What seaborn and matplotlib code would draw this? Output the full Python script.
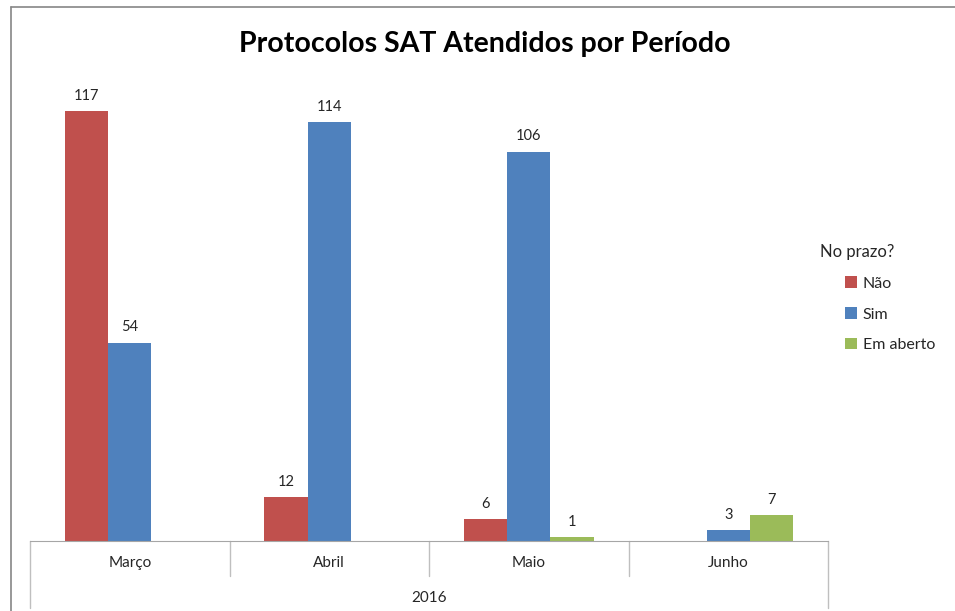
import pandas as pd
import matplotlib.pyplot as plt
import seaborn as sns
from matplotlib.lines import Line2D

meses = ["Março", "Abril", "Maio", "Junho"]
nao = [117, 12, 6, None]
sim = [54, 114, 106, 3]
em_aberto = [None, None, 1, 7]
series = ["Não", "Sim", "Em aberto"]
cores = {"Não": "#C0504D", "Sim": "#4F81BD", "Em aberto": "#9BBB59"}

rows = []
for i, m in enumerate(meses):
    for nome, vals in zip(series, [nao, sim, em_aberto]):
        if vals[i] is not None:
            rows.append({"Mes": m, "Prazo": nome, "Qtd": vals[i]})
df = pd.DataFrame(rows)

sns.set_style("white")
plt.rcParams["font.family"] = ["Lato", "DejaVu Sans"]

W, H = 955, 611
fig = plt.figure(figsize=(W / 100, H / 100), dpi=100)
ax_bottom, ax_top = 541, 27
ax = fig.add_axes([30 / W, 1 - ax_bottom / H, 798 / W, (ax_bottom - ax_top) / H])

sns.barplot(data=df, x="Mes", y="Qtd", hue="Prazo", order=meses,
            hue_order=series, palette=cores, width=0.65, linewidth=0,
            saturation=1, errorbar=None, legend=True, ax=ax)

for c in ax.containers:
    ax.bar_label(c, padding=6, fontsize=10.5, color="#262626")

ax.set_xlim(-0.5, 3.5)
ax.set_ylim(0, 140)
ax.set_xlabel("")
ax.set_ylabel("")
ax.set_yticks([])
ax.set_xticks([])
for s in ["top", "right", "left"]:
    ax.spines[s].set_visible(False)
ax.spines["bottom"].set_color("#A6A6A6")

# multi-level category axis
axh = ax_bottom - ax_top
trans = ax.get_xaxis_transform()
for x in [0.5, 1.5, 2.5]:
    ax.plot([x, x], [0, -35 / axh], transform=trans, color="#BFBFBF", lw=1, clip_on=False)
for x in [-0.5, 3.5]:
    ax.plot([x, x], [0, -67 / axh], transform=trans, color="#BFBFBF", lw=1, clip_on=False)
for i, m in enumerate(meses):
    ax.text(i, -22 / axh, m, transform=trans, ha="center", va="center", fontsize=11, color="#262626")
ax.text(1.5, -57 / axh, "2016", transform=trans, ha="center", va="center", fontsize=11, color="#262626")

handles, labels = ax.get_legend_handles_labels()
ax.legend(handles, labels, loc="upper left", bbox_to_anchor=(831 / W, 1 - 262 / H),
          bbox_transform=fig.transFigure, frameon=False, fontsize=11.5,
          handlelength=0.7, handleheight=0.7, handletextpad=0.4, labelspacing=1.05)
fig.text(820 / W, 1 - 252 / H, "No prazo?", fontsize=12, ha="left", va="center", color="#262626")

fig.text(485 / W, 1 - 44 / H, "Protocolos SAT Atendidos por Período", fontsize=20.5,
         fontweight="bold", ha="center", va="center", color="black")

# chart frame
fig.add_artist(Line2D([11 / W, 11 / W], [0, 1 - 7 / H], color="#868686", lw=1.2))
fig.add_artist(Line2D([11 / W, 1], [1 - 7 / H, 1 - 7 / H], color="#868686", lw=1.2))

fig.savefig("out.png", dpi=100)
